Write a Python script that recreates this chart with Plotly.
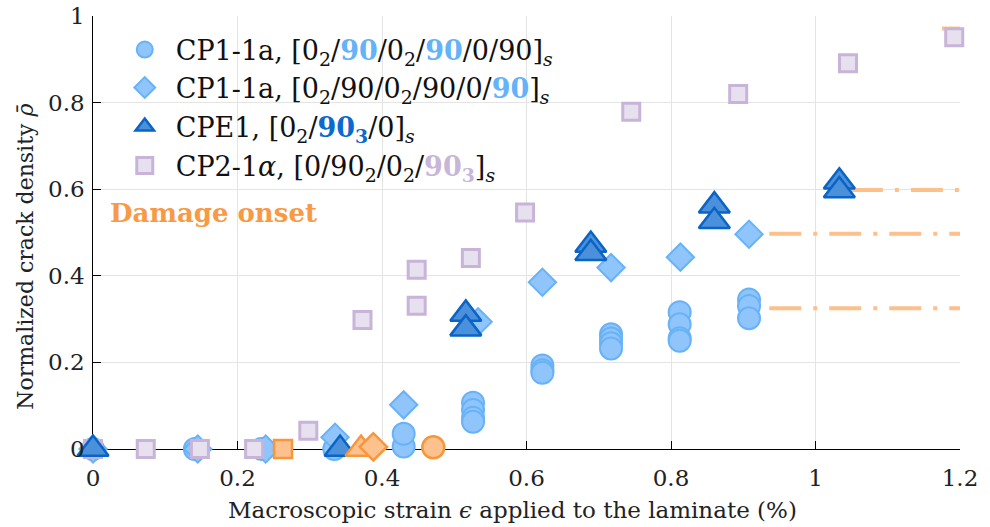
import plotly.graph_objects as go

# ---- measured data -------------------------------------------------------
# CP1-1a, [0_2/90/0_2/90/0/90]_s  (cracks in the inner 90 plies)
circ_x = [0, 0.141, 0.233, 0.334, 0.430, 0.430, 0.526, 0.526, 0.526, 0.526,
          0.622, 0.622, 0.622, 0.717, 0.717, 0.717, 0.717,
          0.812, 0.812, 0.812, 0.812, 0.908, 0.908, 0.908]
circ_y = [0, 0, 0, 0, 0.006, 0.035, 0.107, 0.090, 0.072, 0.063,
          0.193, 0.182, 0.176, 0.265, 0.255, 0.244, 0.232,
          0.316, 0.288, 0.256, 0.250, 0.345, 0.330, 0.302]

# CP1-1a, [0_2/90/0_2/90/0/90]_s  (cracks in the central 90 ply)
diam_x = [0, 0.145, 0.239, 0.335, 0.430, 0.533, 0.622, 0.717, 0.813, 0.908]
diam_y = [0, 0, 0, 0.027, 0.102, 0.294, 0.385, 0.419, 0.443, 0.496]

# CPE1, [0_2/90_3/0]_s
tri_x = [0, 0.342, 0.516, 0.516, 0.689, 0.689, 0.860, 0.860, 1.033, 1.033]
tri_y = [0, 0, 0.312, 0.278, 0.471, 0.452, 0.562, 0.526, 0.617, 0.597]

# CP2-1alpha, [0/90_2/0_2/90_3]_s
sq_x = [0, 0.073, 0.148, 0.223, 0.298, 0.373, 0.448, 0.448, 0.523, 0.598,
        0.745, 0.893, 1.045, 1.192]
sq_y = [0, 0, 0, 0, 0.042, 0.298, 0.414, 0.331, 0.441, 0.546,
        0.779, 0.820, 0.891, 0.951]

# damage onset strains (one per laminate)
onset_sq_x, onset_sq_y = [0.263], [0]
onset_tri_x, onset_tri_y = [0.371], [0]
onset_dia_x, onset_dia_y = [0.388], [0.005]
onset_circ_x, onset_circ_y = [0.471], [0.004]

# saturation levels drawn as dash-dot guides
sat_level = [0.325, 0.497, 0.598, 0.971]
sat_start = [0.936, 0.936, 1.049, 1.175]
sat_end = 1.2

x_ticks = [0, 0.2, 0.4, 0.6, 0.8, 1, 1.2]
y_ticks = [0, 0.2, 0.4, 0.6, 0.8, 1]

# ---- styling --------------------------------------------------------------
LB_FILL, LB_EDGE = "#90C5FB", "#68B2F7"
TR_FILL, TR_EDGE = "#4A90DA", "#0A64C6"
SQ_FILL, SQ_EDGE = "#E7E0EE", "#C8B4D8"
OR_FILL, OR_EDGE = "#FCC18C", "#F8963C"
OR_LINE = "#FDC08A"
SERIF = "DejaVu Serif"

fig = go.Figure()

# saturation guide lines
for lvl, x0 in zip(sat_level, sat_start):
    fig.add_trace(go.Scatter(
        x=[x0, sat_end], y=[lvl, lvl], mode="lines",
        line=dict(color=OR_LINE, width=4, dash="32px,12px,4px,12px"),
        showlegend=False, hoverinfo="skip"))

fig.add_trace(go.Scatter(
    x=circ_x, y=circ_y, mode="markers", cliponaxis=False,
    marker=dict(symbol="circle", size=22, color=LB_FILL,
                line=dict(color=LB_EDGE, width=2)),
    name="CP1-1a, [0<sub>2</sub>/<b><span style='color:#64B2F8'>90</span></b>"
         "/0<sub>2</sub>/<b><span style='color:#64B2F8'>90</span></b>/0/90]<sub><i>s</i></sub>",
    legend="legend"))

fig.add_trace(go.Scatter(
    x=diam_x, y=diam_y, mode="markers", cliponaxis=False,
    marker=dict(symbol="diamond", size=21, color=LB_FILL,
                line=dict(color=LB_EDGE, width=2)),
    name="CP1-1a, [0<sub>2</sub>/90/0<sub>2</sub>/90/0/"
         "<b><span style='color:#64B2F8'>90</span></b>]<sub><i>s</i></sub>",
    legend="legend2"))

fig.add_trace(go.Scatter(
    x=sq_x, y=sq_y, mode="markers", cliponaxis=False,
    marker=dict(symbol="square", size=17, color=SQ_FILL,
                line=dict(color=SQ_EDGE, width=3)),
    name="CP2-1<i>α</i>, [0/90<sub>2</sub>/0<sub>2</sub>/"
         "<b><span style='color:#C8B6D8'>90<sub>3</sub></span></b>]<sub><i>s</i></sub>",
    legend="legend4"))

fig.add_trace(go.Scatter(
    x=tri_x, y=tri_y, mode="markers", cliponaxis=False,
    marker=dict(symbol="triangle-up", size=27, color=TR_FILL,
                line=dict(color=TR_EDGE, width=2.5)),
    name="CPE1, [0<sub>2</sub>/<b><span style='color:#0A6AD0'>90<sub>3</sub></span></b>"
         "/0]<sub><i>s</i></sub>",
    legend="legend3"))

# damage onset markers
for xs, ys, sym, sz in [(onset_sq_x, onset_sq_y, "square", 18),
                        (onset_tri_x, onset_tri_y, "triangle-up", 27),
                        (onset_dia_x, onset_dia_y, "diamond", 21),
                        (onset_circ_x, onset_circ_y, "circle", 22)]:
    fig.add_trace(go.Scatter(
        x=xs, y=ys, mode="markers", cliponaxis=False, showlegend=False,
        marker=dict(symbol=sym, size=sz, color=OR_FILL,
                    line=dict(color=OR_EDGE, width=2.5))))

# plot geometry in pixels
L, R, T, B = 93, 20, 16, 78
W, H = 990, 527
pw, ph = W - L - R, H - T - B


def px_x(p):
    return (p - L) / pw


def px_y(p):
    return (H - B - p) / ph


# white backdrop behind the legend block
fig.add_shape(type="rect", xref="paper", yref="paper",
              x0=0.002, x1=px_x(572), y0=px_y(187), y1=px_y(26),
              fillcolor="white", line_width=0, layer="between")

leg_common = dict(xanchor="left", yanchor="middle", bgcolor="rgba(0,0,0,0)",
                  font=dict(family=SERIF, size=27, color="#111"),
                  itemsizing="trace", itemwidth=52)
fig.update_layout(
    legend=dict(x=px_x(114), y=px_y(50), **leg_common),
    legend2=dict(x=px_x(114), y=px_y(88), **leg_common),
    legend3=dict(x=px_x(114), y=px_y(127), **leg_common),
    legend4=dict(x=px_x(114), y=px_y(166), **leg_common),
)

fig.add_annotation(xref="paper", yref="paper", x=px_x(108), y=px_y(213),
                   xanchor="left", yanchor="middle", showarrow=False,
                   text="<b>Damage onset</b>",
                   font=dict(family=SERIF, size=26, color="#F89A45"))

fig.add_annotation(xref="paper", yref="paper", x=px_x(517), y=px_y(510),
                   xanchor="center", yanchor="middle", showarrow=False,
                   text="Macroscopic strain <i>ϵ</i> applied to the laminate (%)",
                   font=dict(family=SERIF, size=23, color="#222"))

fig.add_annotation(xref="paper", yref="paper", x=px_x(24), y=px_y(257),
                   xanchor="center", yanchor="middle", showarrow=False,
                   textangle=-90,
                   text="Normalized crack density <i>ρ̄</i>",
                   font=dict(family=SERIF, size=22, color="#222"))

# y tick labels sit close to the axis line
for v in y_ticks:
    fig.add_annotation(xref="paper", yref="y", x=px_x(87), y=v,
                       xanchor="right", yanchor="middle", showarrow=False,
                       text=f"{v:g}",
                       font=dict(family=SERIF, size=23, color="#222"))

axis_common = dict(showline=True, linecolor="black", linewidth=1,
                   ticks="inside", ticklen=8, tickcolor="black",
                   showgrid=True, gridcolor="#E4E4E4", gridwidth=1,
                   zeroline=False, layer="below traces",
                   tickfont=dict(family=SERIF, size=23, color="#222"))

fig.update_xaxes(range=[0, 1.2], tickvals=x_ticks, ticklabelstandoff=8,
                 ticktext=[f"{v:g}" for v in x_ticks], **axis_common)
fig.update_yaxes(range=[0, 1], tickvals=y_ticks, showticklabels=False,
                 **axis_common)

fig.update_layout(width=W, height=H,
                  margin=dict(l=L, r=R, t=T, b=B, pad=0),
                  plot_bgcolor="white", paper_bgcolor="white",
                  showlegend=True)

fig.write_html("out.html")
